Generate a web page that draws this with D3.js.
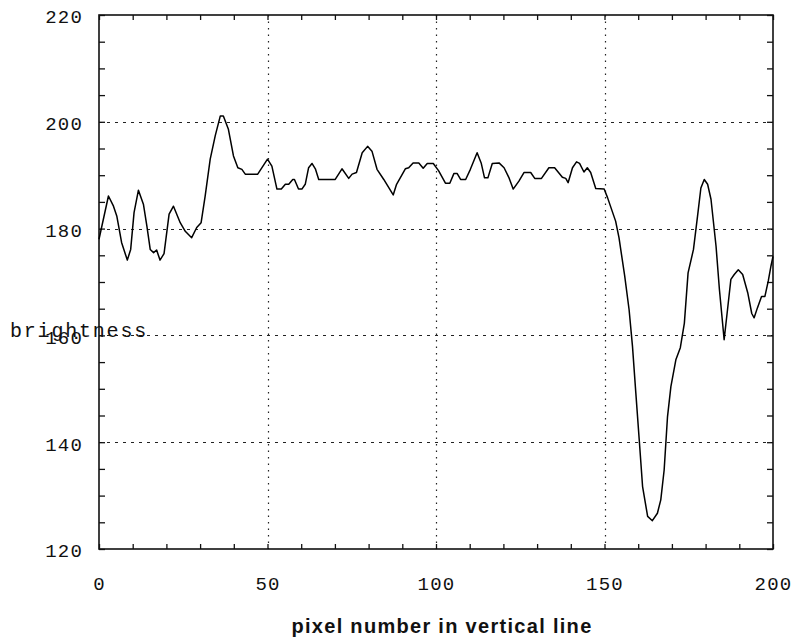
<!DOCTYPE html>
<html>
<head>
<meta charset="utf-8">
<script src="https://cdn.jsdelivr.net/npm/d3@7"></script>
<style>
  html, body { margin: 0; padding: 0; background: #fff; }
  svg { display: block; }
</style>
</head>
<body>
<div id="chart"></div>
<script>
// Brightness profile along one vertical line of pixels.
const pixelIndex = [
  0, 2.8, 4.3, 5.3, 6.7, 8.4, 9.4, 10.4, 11.7, 13.2, 14.2, 15.2, 16.2, 17.1, 18.1, 19.3,
  20.8, 22.1, 24.1, 25.6, 27.5, 29.0, 30.3, 31.5, 33.0, 34.5, 36.0, 36.9, 38.4, 39.9,
  41.2, 42.4, 43.4, 47.1, 50.0, 51.3, 52.8, 54.1, 55.3, 56.3, 57.5, 58.0, 59.2, 60.2,
  61.2, 62.2, 63.2, 64.2, 65.2, 68.6, 70.1, 72.1, 74.1, 75.1, 76.4, 78.1, 79.7, 81.0,
  82.5, 84.5, 87.3, 88.3, 90.9, 91.9, 93.2, 94.9, 96.2, 97.4, 99.2, 100.8, 102.8, 104.1,
  105.3, 106.3, 107.3, 108.8, 110.2, 112.2, 113.4, 114.4, 115.4, 116.7, 118.7, 120.2,
  121.6, 122.9, 124.6, 126.1, 128.1, 129.3, 131.3, 133.5, 135.2, 137.5, 138.5, 139.2,
  140.5, 141.7, 142.6, 143.9, 144.9, 145.9, 147.4, 149.9, 150.9, 153.3, 154.3, 156.0,
  157.3, 158.3, 159.3, 160.3, 161.3, 162.8, 164.2, 165.7, 166.7, 167.7, 168.7, 169.7,
  171.2, 172.5, 173.7, 174.8, 176.4, 177.6, 178.6, 179.6, 180.6, 181.6, 183.1, 184.1,
  185.5, 186.5, 187.5, 188.5, 189.7, 191.0, 192.5, 193.7, 194.4, 195.4, 196.6, 197.6,
  198.6, 199.4, 200
];
const brightness = [
  178, 186.1, 184.2, 182.3, 177.4, 174.1, 176.1, 183, 187.2, 184.5, 180.5, 176.1, 175.5, 176, 174.1, 175.3,
  182.7, 184.2, 181.1, 179.5, 178.3, 180.2, 181.1, 186.1, 193, 197.4, 201.1, 201.1, 198.6, 193.6,
  191.4, 191.1, 190.2, 190.2, 193, 191.7, 187.4, 187.4, 188.3, 188.3, 189.2, 189.2, 187.4, 187.4,
  188.3, 191.4, 192.2, 191.2, 189.2, 189.2, 189.2, 191.2, 189.4, 190.2, 190.5, 194.2, 195.4, 194.5,
  191.1, 189.2, 186.3, 188.3, 191.2, 191.4, 192.3, 192.3, 191.3, 192.2, 192.2, 190.8, 188.5, 188.5,
  190.3, 190.3, 189.2, 189.2, 191.1, 194.2, 192.3, 189.5, 189.5, 192.2, 192.3, 191.4,
  189.6, 187.4, 188.9, 190.5, 190.5, 189.4, 189.4, 191.4, 191.4, 189.6, 189.4, 188.6,
  191.4, 192.5, 192.2, 190.6, 191.4, 190.5, 187.5, 187.4, 185.8, 181.4, 178.3, 171.1,
  164.8, 158, 149.2, 140.5, 131.7, 126.1, 125.3, 126.7, 129.2, 134.8, 144.8, 150.4,
  155.5, 157.7, 162.3, 171.7, 176.1, 182.3, 187.6, 189.2, 188.3, 185.5, 176.7, 168.6,
  159.2, 164.8, 170.5, 171.4, 172.3, 171.4, 168, 164.1, 163.3, 165.2, 167.3, 167.3,
  170.2, 173, 174.8
];

const xDomain = [0, 200];
const yDomain = [120, 220];
const xMajor = [0, 50, 100, 150, 200];
const yMajor = [120, 140, 160, 180, 200, 220];
const xMinor = d3.range(0, 201, 10);
const yMinor = d3.range(120, 221, 5);
const xGrid = [50, 100, 150];
const yGrid = [140, 160, 180, 200];

const W = 799, H = 643;
const margin = { top: 15, right: 26, bottom: 94, left: 99 };
const iw = W - margin.left - margin.right;
const ih = H - margin.top - margin.bottom;

const svg = d3.select('#chart').append('svg')
  .attr('width', W).attr('height', H);

const g = svg.append('g')
  .attr('transform', `translate(${margin.left},${margin.top})`);

const x = d3.scaleLinear().domain(xDomain).range([0, iw]);
const y = d3.scaleLinear().domain(yDomain).range([ih, 0]);

const mono = '"Liberation Mono", "DejaVu Sans Mono", monospace';

// Grid: horizontal short dashes, vertical dots.
g.append('g').selectAll('line')
  .data(yGrid).join('line')
  .attr('x1', 0).attr('x2', iw)
  .attr('y1', d => Math.round(y(d)) + 0.5).attr('y2', d => Math.round(y(d)) + 0.5)
  .attr('stroke', '#222').attr('stroke-width', 1)
  .attr('stroke-dasharray', '3 5');

g.append('g').selectAll('line')
  .data(xGrid).join('line')
  .attr('x1', d => Math.round(x(d)) + 0.5).attr('x2', d => Math.round(x(d)) + 0.5)
  .attr('y1', 0).attr('y2', ih)
  .attr('stroke', '#222').attr('stroke-width', 1.2)
  .attr('stroke-dasharray', '1.5 5');

// Inward tick marks on all four sides.
function styleTicks(sel) {
  sel.select('.domain').remove();
  sel.selectAll('line').attr('stroke', '#111').attr('stroke-width', 1.3);
}
g.append('g').attr('transform', `translate(0,${ih})`)
  .call(d3.axisBottom(x).tickValues(xMinor).tickSize(-5).tickFormat(''))
  .call(styleTicks);
g.append('g')
  .call(d3.axisTop(x).tickValues(xMinor).tickSize(-5).tickFormat(''))
  .call(styleTicks);
g.append('g')
  .call(d3.axisLeft(y).tickValues(yMinor).tickSize(-6).tickFormat(''))
  .call(styleTicks);
g.append('g').attr('transform', `translate(${iw},0)`)
  .call(d3.axisRight(y).tickValues(yMinor).tickSize(-6).tickFormat(''))
  .call(styleTicks);

// Frame.
g.append('rect')
  .attr('x', 0).attr('y', 0).attr('width', iw).attr('height', ih)
  .attr('fill', 'none').attr('stroke', '#111').attr('stroke-width', 1.6);

// Tick labels.
const xLab = g.append('g').attr('transform', `translate(0,${ih})`)
  .call(d3.axisBottom(x).tickValues(xMajor).tickSize(0).tickPadding(28).tickFormat(d3.format('d')));
xLab.select('.domain').remove();
xLab.selectAll('text')
  .style('font-family', mono).style('font-size', '19px')
  .style('letter-spacing', '1.2px').attr('fill', '#111');

const yLab = g.append('g')
  .call(d3.axisLeft(y).tickValues(yMajor).tickSize(0).tickPadding(16).tickFormat(d3.format('d')));
yLab.select('.domain').remove();
yLab.selectAll('text')
  .attr('dy', '0.42em')
  .style('font-family', mono).style('font-size', '19px')
  .style('letter-spacing', '1.2px').attr('fill', '#111');

// Data line.
const line = d3.line()
  .x((d, i) => x(pixelIndex[i]))
  .y(d => y(d));

g.append('path')
  .datum(brightness)
  .attr('fill', 'none')
  .attr('stroke', '#000')
  .attr('stroke-width', 1.5)
  .attr('stroke-linejoin', 'round')
  .attr('d', line);

// Axis titles. The y title sits over the 160 label, as in the original.
svg.append('text')
  .attr('x', 10).attr('y', 337)
  .style('font-family', mono).style('font-size', '20px')
  .style('letter-spacing', '1.8px')
  .attr('fill', '#111')
  .text('brightness');

svg.append('text')
  .attr('x', 442).attr('y', 633)
  .attr('text-anchor', 'middle')
  .style('font-family', '"Liberation Sans", Arial, sans-serif')
  .style('font-size', '20px').style('font-weight', 'bold')
  .style('letter-spacing', '1.3px')
  .attr('fill', '#111')
  .text('pixel number in vertical line');
</script>
</body>
</html>
